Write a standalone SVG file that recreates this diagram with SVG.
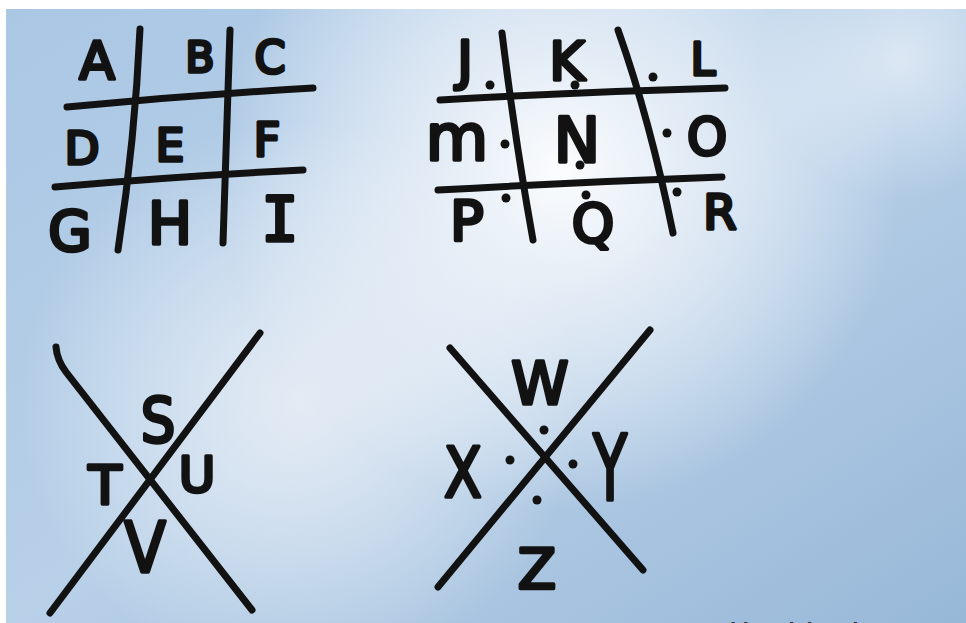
<svg xmlns="http://www.w3.org/2000/svg" width="966" height="623" viewBox="0 0 966 623">
<defs>
<radialGradient id="cloud1" cx="560" cy="170" r="340" gradientUnits="userSpaceOnUse">
<stop offset="0" stop-color="#ffffff" stop-opacity="0.95"/>
<stop offset="0.5" stop-color="#f4f7fb" stop-opacity="0.6"/>
<stop offset="1" stop-color="#ffffff" stop-opacity="0"/>
</radialGradient>
<radialGradient id="cloud2" cx="300" cy="400" r="280" gradientUnits="userSpaceOnUse">
<stop offset="0" stop-color="#f2f4f8" stop-opacity="0.75"/>
<stop offset="1" stop-color="#ffffff" stop-opacity="0"/>
</radialGradient>
<radialGradient id="cloud3" cx="900" cy="60" r="140" gradientUnits="userSpaceOnUse">
<stop offset="0" stop-color="#ffffff" stop-opacity="0.5"/>
<stop offset="1" stop-color="#ffffff" stop-opacity="0"/>
</radialGradient>
<linearGradient id="base" x1="0" y1="0" x2="1" y2="1">
<stop offset="0" stop-color="#aac7e4"/>
<stop offset="0.5" stop-color="#b8d0e8"/>
<stop offset="1" stop-color="#98b8d8"/>
</linearGradient>
<style>
.ink{stroke:#121212;stroke-width:7;stroke-linecap:round;stroke-linejoin:round;fill:none}
.l{font-family:"DejaVu Sans",sans-serif;font-weight:normal;fill:#121212;stroke:#121212;stroke-width:3.5;stroke-linejoin:round;text-anchor:middle}
.m{font-family:"DejaVu Sans Mono",monospace}
.d{fill:#121212}
.cap{font-family:"DejaVu Sans",sans-serif;font-weight:bold;fill:#2a3440;font-size:18px}
</style>
</defs>
<rect width="966" height="623" fill="#ffffff"/>
<rect x="6" y="9" width="960" height="614" fill="url(#base)"/>
<rect x="6" y="9" width="960" height="614" fill="url(#cloud1)"/>
<rect x="6" y="9" width="960" height="614" fill="url(#cloud2)"/>
<rect x="6" y="9" width="960" height="614" fill="url(#cloud3)"/>

<g id="connectors">
<path class="ink" d="M140 29 Q135 140 118 250"/>
<path class="ink" d="M230 30 Q226 140 223 243"/>
<path class="ink" d="M67 107 Q190 95 313 88"/>
<path class="ink" d="M55 187 Q180 176 303 170"/>
<path class="ink" d="M502 33 Q515 140 533 240"/>
<path class="ink" d="M618 30 Q650 120 673 233"/>
<path class="ink" d="M440 100 Q580 92 725 88"/>
<path class="ink" d="M438 190 Q580 182 722 177"/>
<path class="ink" d="M56 347 Q57 360 66 372 L252 610"/>
<path class="ink" d="M260 333 L50 613"/>
<path class="ink" d="M450 348 L643 570"/>
<path class="ink" d="M650 330 L438 587"/>
</g>

<g id="A"><text class="l" x="97" y="79" font-size="52">A</text></g>
<g id="B"><text class="l" x="200" y="72" font-size="42">B</text></g>
<g id="C"><text class="l" x="270" y="73" font-size="44">C</text></g>
<g id="D"><text class="l" x="82" y="164" font-size="45">D</text></g>
<g id="E"><text class="l" x="170" y="161" font-size="45">E</text></g>
<g id="F"><text class="l" x="267" y="156" font-size="46">F</text></g>
<g id="G"><text class="l" x="70" y="250" font-size="56">G</text></g>
<g id="H"><text class="l" x="170" y="244" font-size="59">H</text></g>
<g id="I"><text class="l m" x="280" y="241" font-size="62">I</text></g>

<g id="J"><text class="l" x="465" y="79" font-size="53">J</text><circle class="d" cx="490" cy="85" r="4.5"/></g>
<g id="K"><text class="l" x="567" y="80" font-size="54">K</text><circle class="d" cx="575" cy="85" r="4.5"/></g>
<g id="L"><text class="l" x="703" y="75" font-size="44">L</text><circle class="d" cx="653" cy="77" r="4.5"/></g>
<g id="M"><text class="l" x="457" y="160" font-size="64">m</text><circle class="d" cx="505" cy="144" r="4.5"/></g>
<g id="N"><text class="l" x="577" y="162" font-size="62">N</text><circle class="d" cx="580" cy="165" r="4.5"/></g>
<g id="O"><text class="l" x="707" y="155" font-size="51">O</text><circle class="d" cx="667" cy="133" r="4.5"/></g>
<g id="P"><text class="l" x="467" y="240" font-size="56">P</text><circle class="d" cx="506" cy="198" r="4.5"/></g>
<g id="Q"><text class="l" x="593" y="242" font-size="54">Q</text><circle class="d" cx="586" cy="195" r="4.5"/></g>
<g id="R"><text class="l" x="720" y="229" font-size="48">R</text><circle class="d" cx="677" cy="192" r="4.5"/></g>

<g id="S"><text class="l" transform="translate(158 442) scale(0.88 1)" font-size="62">S</text></g>
<g id="T"><text class="l" x="105" y="504" font-size="54">T</text></g>
<g id="U"><text class="l" x="197" y="492" font-size="50">U</text></g>
<g id="V"><text class="l" transform="translate(145 572) scale(0.87 1)" font-size="70">V</text></g>

<g id="W"><text class="l" x="540" y="404" font-size="58">W</text><circle class="d" cx="544" cy="430" r="4.5"/></g>
<g id="X"><text class="l" transform="translate(463 497) scale(0.8 1)" font-size="69">X</text><circle class="d" cx="510" cy="460" r="4.5"/></g>
<g id="Y"><text class="l" transform="translate(610 500) scale(0.62 1)" font-size="90">Y</text><circle class="d" cx="573" cy="464" r="4.5"/></g>
<g id="Z"><text class="l" x="537" y="588" font-size="56">Z</text><circle class="d" cx="537" cy="500" r="4.5"/></g>

<text class="cap" x="716" y="636">Kid Activity Pl</text>
</svg>
